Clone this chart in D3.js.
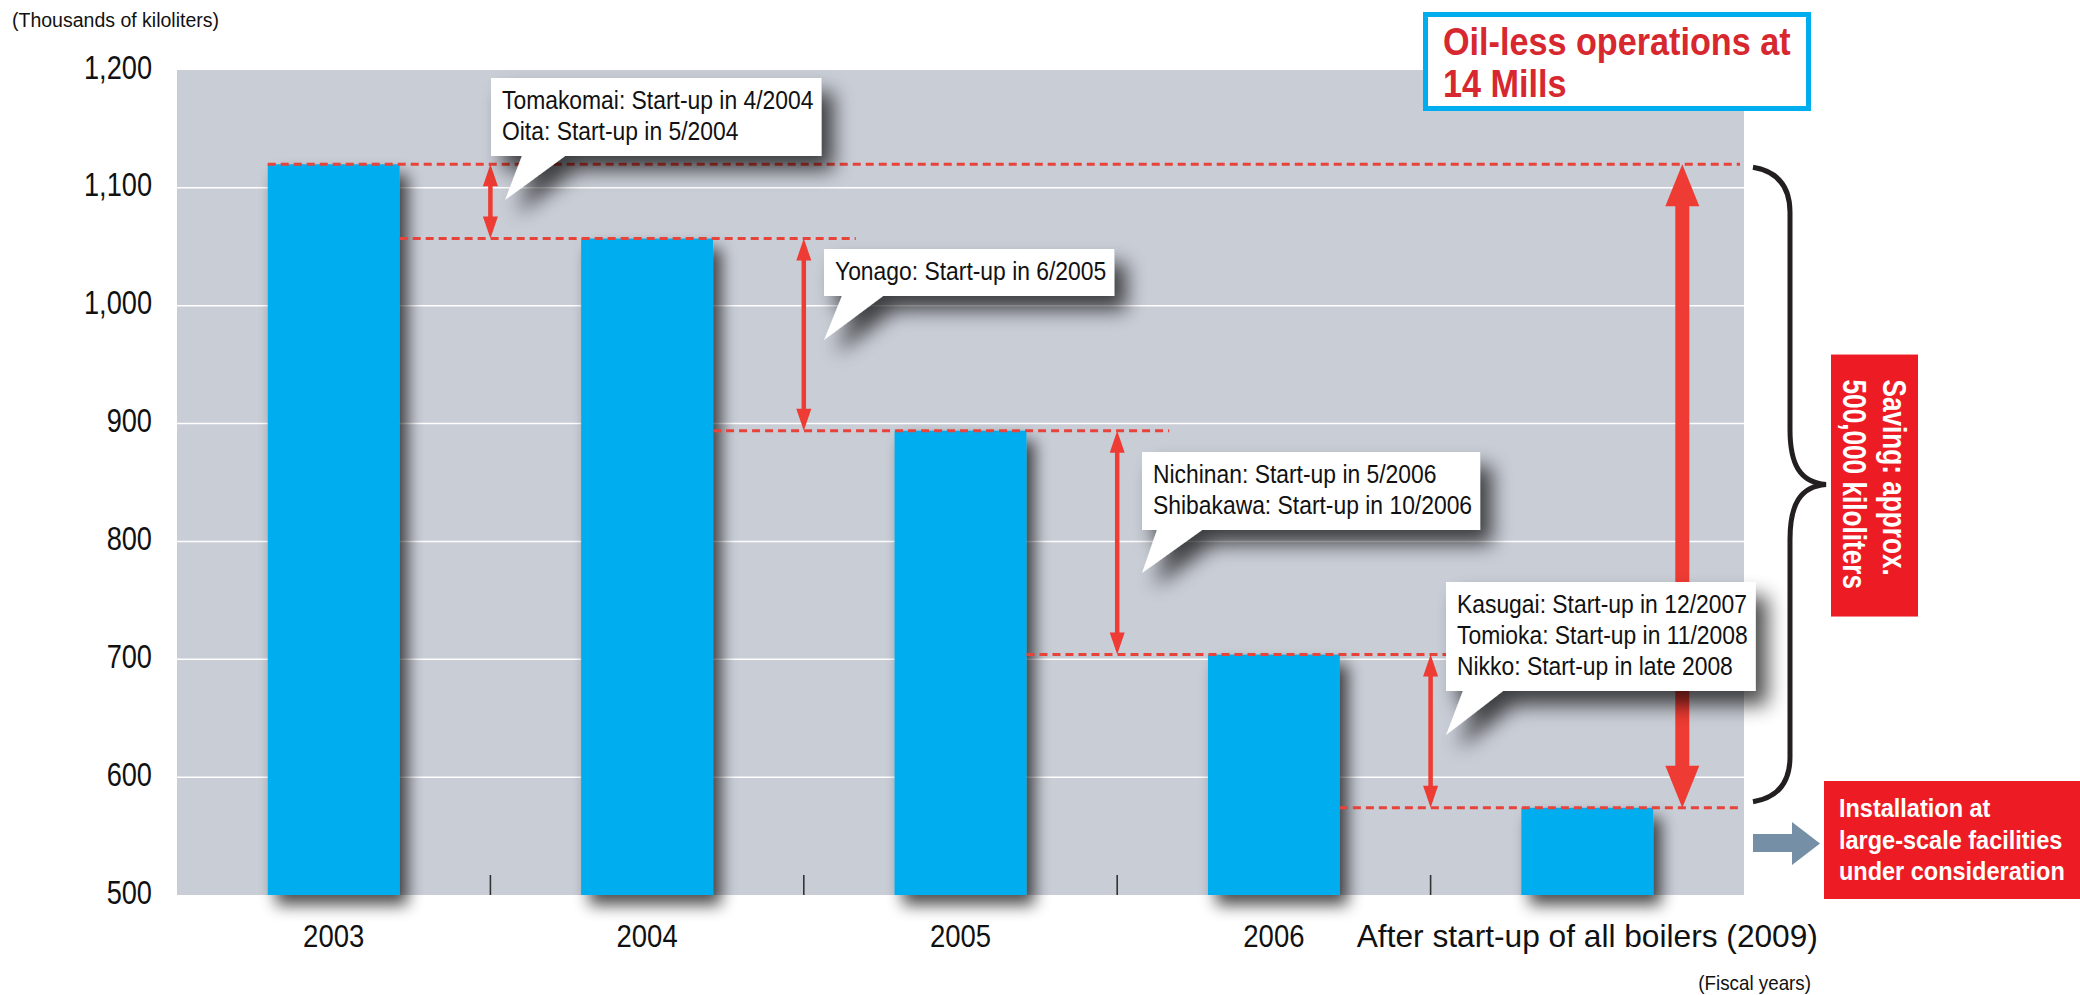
<!DOCTYPE html>
<html>
<head>
<meta charset="utf-8">
<script src="https://cdn.jsdelivr.net/npm/d3@7"></script>
<style>
  html, body { margin: 0; padding: 0; background: #fff; }
  svg { display: block; font-family: "Liberation Sans", Arial, sans-serif; }
</style>
</head>
<body>
<svg id="chart" width="2080" height="995"></svg>
<script>
// ---- Data ----
const categories = ["2003", "2004", "2005", "2006", "After start-up of all boilers (2009)"];
const consumption = [1120, 1057, 894, 704, 574];           // thousands of kiloliters
const yTicks = [500, 600, 700, 800, 900, 1000, 1100, 1200];
const yTickLabels = ["500", "600", "700", "800", "900", "1,000", "1,100", "1,200"];
const startups = [
  ["Tomakomai: Start-up in 4/2004", "Oita: Start-up in 5/2004"],
  ["Yonago: Start-up in 6/2005"],
  ["Nichinan: Start-up in 5/2006", "Shibakawa: Start-up in 10/2006"],
  ["Kasugai: Start-up in 12/2007", "Tomioka: Start-up in 11/2008", "Nikko: Start-up in late 2008"]
];
const headline = ["Oil-less operations at", "14 Mills"];
const savingText = ["Saving: approx.", "500,000 kiloliters"];
const outlookText = ["Installation at", "large-scale facilities", "under consideration"];
const yAxisTitle = "(Thousands of kiloliters)";
const xAxisTitle = "(Fiscal years)";

// ---- Layout & style ----
const plot = { left: 177, top: 70, right: 1744, bottom: 895 };
const C = {
  plotBg: "#c9cdd6", grid: "#ffffff", bar: "#00aeef", red: "#ee3b33",
  dash: "#e8433a", boxRed: "#ed1c24", headRed: "#d7282f", cyan: "#00aeef",
  ink: "#111111", steel: "#7590a6", brace: "#231f20"
};
// callout boxes: top-left corner, pointer base offsets and tip offset
const calloutLayout = [
  { left: 491,  top: 78,  base: [31, 74], tip: [14, 44] },
  { left: 824,  top: 249, base: [18, 59], tip: [0, 44] },
  { left: 1142, top: 452, base: [15, 60], tip: [0, 43] },
  { left: 1446, top: 582, base: [17, 57], tip: [0, 44] }
];

const svg = d3.select("#chart");
const defs = svg.append("defs");

function shadowFilter(id, blur, dx, dy, alpha) {
  const f = defs.append("filter").attr("id", id)
    .attr("x", "-30%").attr("y", "-30%").attr("width", "170%").attr("height", "170%");
  f.append("feGaussianBlur").attr("in", "SourceAlpha").attr("stdDeviation", blur);
  f.append("feOffset").attr("dx", dx).attr("dy", dy).attr("result", "off");
  f.append("feComponentTransfer").append("feFuncA").attr("type", "linear").attr("slope", alpha);
  const m = f.append("feMerge");
  m.append("feMergeNode");
  m.append("feMergeNode").attr("in", "SourceGraphic");
}
shadowFilter("barShadow", 8, 8, 10, 0.7);
shadowFilter("boxShadow", 10, 12, 14, 0.7);

// condensed text helper: horizontal compression k
function ctext(parent, str, x, y, o) {
  const g = parent.append("g").attr("transform", `translate(${x},${y}) scale(${o.k || 1},1)`);
  return g.append("text").text(str)
    .attr("font-size", o.size)
    .attr("font-weight", o.weight || "normal")
    .attr("fill", o.fill || C.ink)
    .attr("text-anchor", o.anchor || "start");
}

// ---- Scales ----
const x = d3.scaleBand().domain(categories)
  .range([plot.left, plot.right]).paddingInner(0.579).paddingOuter(0.2895);
const y = d3.scaleLinear().domain([500, 1200]).range([plot.bottom, plot.top]);
const bw = x.bandwidth();
const step = x.step();
const boundary = i => x(categories[i]) + bw + (step - bw) / 2;

// ---- Plot background & grid ----
svg.append("rect")
  .attr("x", plot.left).attr("y", plot.top)
  .attr("width", plot.right - plot.left).attr("height", plot.bottom - plot.top)
  .attr("fill", C.plotBg);

svg.append("g").selectAll("line")
  .data(yTicks.filter(v => v > 500 && v < 1200))
  .join("line")
  .attr("x1", plot.left).attr("x2", plot.right)
  .attr("y1", d => y(d)).attr("y2", d => y(d))
  .attr("stroke", C.grid).attr("stroke-width", 1.5);

// ---- Bars ----
svg.append("g").selectAll("rect")
  .data(consumption)
  .join("rect")
  .attr("x", (d, i) => x(categories[i]))
  .attr("y", d => y(d))
  .attr("width", bw)
  .attr("height", d => plot.bottom - y(d))
  .attr("fill", C.bar)
  .attr("filter", "url(#barShadow)");

// category separators
svg.append("g").selectAll("line")
  .data(d3.range(categories.length - 1))
  .join("line")
  .attr("x1", i => boundary(i)).attr("x2", i => boundary(i))
  .attr("y1", plot.bottom - 20).attr("y2", plot.bottom)
  .attr("stroke", "#333").attr("stroke-width", 1.6);

// ---- Dashed reference lines at each level ----
const dashSegs = consumption.map((v, i) => {
  let x1, x2;
  if (i === 0) { x1 = x(categories[0]); x2 = plot.right - 4; }
  else if (i === consumption.length - 1) { x1 = x(categories[i - 1]) + bw; x2 = plot.right - 4; }
  else { x1 = x(categories[i - 1]) + bw; x2 = boundary(i) + 52; }
  return { v, x1, x2 };
});
svg.append("g").selectAll("line")
  .data(dashSegs)
  .join("line")
  .attr("x1", d => d.x1).attr("x2", d => d.x2)
  .attr("y1", d => y(d.v)).attr("y2", d => y(d.v))
  .attr("stroke", C.dash).attr("stroke-width", 3)
  .attr("stroke-dasharray", "8,5");

// ---- Double-headed arrows ----
function arrowPath(cx, yTop, yBot, shaft, headW, headL) {
  const s = shaft / 2, h = headW / 2;
  const p = [
    [cx, yTop], [cx + h, yTop + headL], [cx + s, yTop + headL],
    [cx + s, yBot - headL], [cx + h, yBot - headL], [cx, yBot],
    [cx - h, yBot - headL], [cx - s, yBot - headL],
    [cx - s, yTop + headL], [cx - h, yTop + headL]
  ];
  return "M" + p.map(q => q.join(",")).join("L") + "Z";
}

const arrowG = svg.append("g").attr("fill", C.red);
d3.range(consumption.length - 1).forEach(i => {
  arrowG.append("path")
    .attr("d", arrowPath(boundary(i), y(consumption[i]), y(consumption[i + 1]), 4.5, 15, 22));
});

// overall saving arrow
const last = categories.length - 1;
const bigX = x(categories[last]) + bw + (plot.right - x(categories[last]) - bw) * 0.32;
arrowG.append("path")
  .attr("d", arrowPath(bigX, y(consumption[0]), y(consumption[last]), 14, 34, 42));

// ---- Callouts ----
const calloutG = svg.append("g");
startups.forEach((lines, i) => {
  const L = calloutLayout[i];
  const g = calloutG.append("g");
  const shape = g.append("path").attr("fill", "#fff").attr("filter", "url(#boxShadow)");
  const k = 0.915;
  let maxW = 0;
  lines.forEach((s, j) => {
    const t = ctext(g, s, L.left + 11, L.top + 31 + 31 * j, { size: 25, k });
    maxW = Math.max(maxW, t.node().getComputedTextLength() * k);
  });
  const right = L.left + 11 + maxW + 8;
  const bottom = L.top + 31 + 31 * (lines.length - 1) + 16;
  const d = `M${L.left},${L.top}H${right}V${bottom}H${L.left + L.base[1]}` +
            `L${L.left + L.tip[0]},${bottom + L.tip[1]}L${L.left + L.base[0]},${bottom}H${L.left}Z`;
  shape.attr("d", d);
});

// ---- Axes ----
const yAxis = d3.axisLeft(y).tickValues(yTicks)
  .tickFormat((d, i) => yTickLabels[i]).tickSize(0).tickPadding(0);
const yg = svg.append("g").attr("transform", `translate(${plot.left},0)`).call(yAxis);
yg.select(".domain").remove();
const yk = 0.8;
yg.selectAll("text")
  .attr("font-family", "Liberation Sans, Arial, sans-serif")
  .attr("font-size", 34).attr("fill", C.ink)
  .attr("dy", null).attr("y", 8)
  .attr("x", -25 / yk)
  .attr("transform", `scale(${yk},1)`);

const xAxis = d3.axisBottom(x).tickSize(0).tickPadding(0);
const xg = svg.append("g").attr("transform", `translate(0,${plot.bottom})`).call(xAxis);
xg.select(".domain").remove();
xg.selectAll("text")
  .attr("font-family", "Liberation Sans, Arial, sans-serif")
  .attr("font-size", 32).attr("fill", C.ink)
  .attr("dy", null).attr("y", 52)
  .attr("transform", d => `scale(${d.length > 6 ? 0.99 : 0.86},1)`);

ctext(svg, yAxisTitle, 12, 27, { size: 19.5 });
ctext(svg, xAxisTitle, 1811, 990, { size: 20, k: 0.94, anchor: "end" });

// ---- Curly brace spanning the total saving ----
const bTop = y(consumption[0]) + 3, bBot = y(consumption[last]) - 6, bMid = (bTop + bBot) / 2;
const bx0 = 1753, bx = 1790, tipX = 1826;
svg.append("path")
  .attr("d", `M${bx0},${bTop}C${bx0 + 24},${bTop + 4} ${bx},${bTop + 18} ${bx},${bTop + 45}` +
             `L${bx},${bMid - 55}C${bx},${bMid - 20} ${bx + 10},${bMid - 2} ${tipX},${bMid}` +
             `C${bx + 10},${bMid + 2} ${bx},${bMid + 20} ${bx},${bMid + 55}` +
             `L${bx},${bBot - 45}C${bx},${bBot - 18} ${bx0 + 24},${bBot - 4} ${bx0},${bBot}`)
  .attr("fill", "none").attr("stroke", C.brace).attr("stroke-width", 5);

// saving label (vertical)
svg.append("rect").attr("x", 1831).attr("y", bMid - 130).attr("width", 87).attr("height", 262)
  .attr("fill", C.boxRed);
savingText.forEach((s, j) => {
  svg.append("g")
    .attr("transform", `translate(${1883 - 40 * j},${bMid - 105}) rotate(90) scale(0.77,1)`)
    .append("text").text(s)
    .attr("font-size", 34).attr("font-weight", "bold").attr("fill", "#fff");
});

// ---- Outlook box with pointer ----
svg.append("path")
  .attr("d", "M1753,834H1792V822L1820,843.5L1792,865V852H1753Z")
  .attr("fill", C.steel);
svg.append("rect").attr("x", 1824).attr("y", 781).attr("width", 256).attr("height", 118)
  .attr("fill", C.boxRed);
outlookText.forEach((s, j) => {
  ctext(svg, s, 1839, 817 + 31.5 * j, { size: 25, k: 0.94, weight: "bold", fill: "#fff" });
});

// ---- Headline box ----
svg.append("rect").attr("x", 1425.5).attr("y", 14.5).attr("width", 383).attr("height", 94)
  .attr("fill", "#fff").attr("stroke", C.cyan).attr("stroke-width", 5);
headline.forEach((s, j) => {
  ctext(svg, s, 1443, 55 + 42 * j, { size: 38, k: 0.9, weight: "bold", fill: C.headRed });
});
</script>
</body>
</html>
